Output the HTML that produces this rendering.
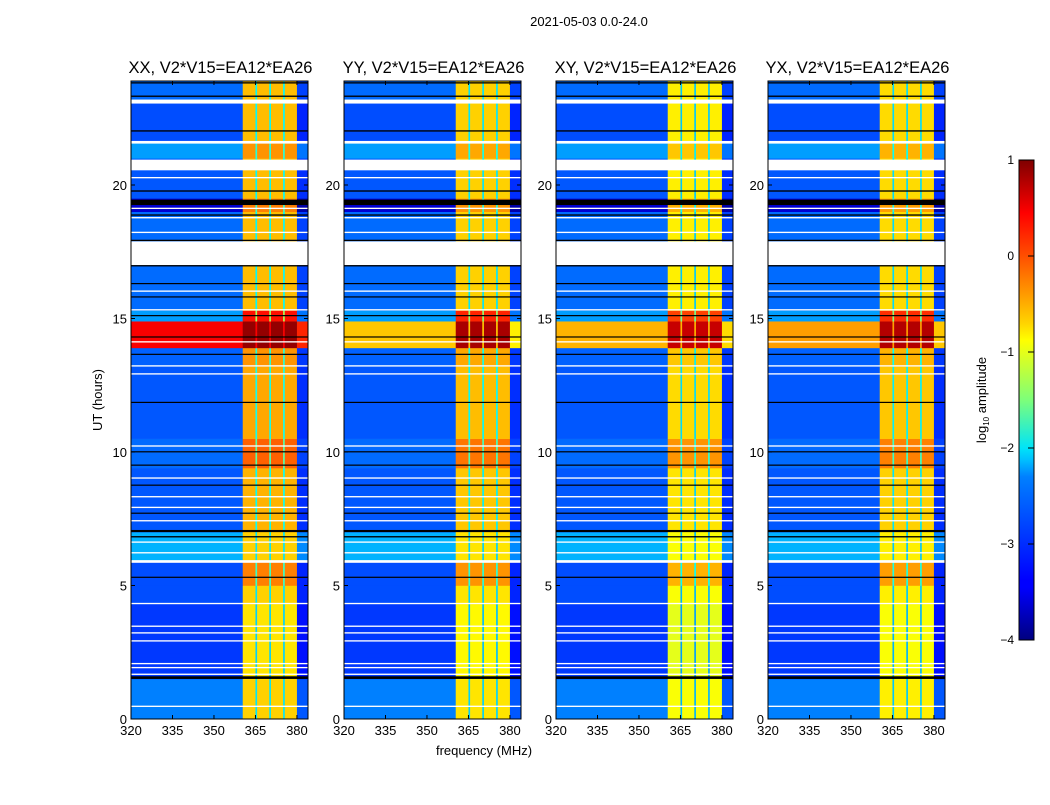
<!DOCTYPE html>
<html><head><meta charset="utf-8"><style>
body{margin:0;background:#fff;width:1050px;height:800px;overflow:hidden}
svg text{font-family:"Liberation Sans",sans-serif;fill:#000}
</style></head><body>
<svg id="fig" width="1050" height="800" xmlns="http://www.w3.org/2000/svg">
<defs><linearGradient id="jet" x1="0" y1="1" x2="0" y2="0">
<stop offset="0" stop-color="#00007f"/><stop offset="0.11" stop-color="#0000ff"/><stop offset="0.125" stop-color="#0000ff"/>
<stop offset="0.34" stop-color="#0080ff"/><stop offset="0.375" stop-color="#00bfff"/><stop offset="0.4" stop-color="#00e4f8"/>
<stop offset="0.5" stop-color="#7dff7a"/><stop offset="0.625" stop-color="#ffff00"/><stop offset="0.66" stop-color="#ffd400"/>
<stop offset="0.8" stop-color="#ff4f00"/><stop offset="0.89" stop-color="#ff0000"/><stop offset="1" stop-color="#7f0000"/>
</linearGradient></defs>
<text x="589" y="26" font-size="13" text-anchor="middle">2021-05-03 0.0-24.0</text>
<text x="484" y="755" font-size="13" text-anchor="middle">frequency (MHz)</text>
<text x="102" y="400" font-size="13" text-anchor="middle" transform="rotate(-90 102 400)">UT (hours)</text>
<g id="cbar"></g>
</svg>
<script>
const NS='http://www.w3.org/2000/svg';
const panelTitles=['XX, V2*V15=EA12*EA26','YY, V2*V15=EA12*EA26','XY, V2*V15=EA12*EA26','YX, V2*V15=EA12*EA26'];
const panelLeft=[131,344,556,768];
const xTicks=[320,335,350,365,380];
const yTicks=[0,5,10,15,20];
// frequency segments [start MHz, end MHz, kind]
const freqStart=[320,360.4,365,365.6,370,370.6,375,375.6,380];
const freqEnd=[360.4,365,365.6,370,370.6,375,375.6,380,384];
const freqKind=['bg','band','gap','band','gap','band','gap','band','bg'];
// time segments (hours) with background and band log amplitude
const tStart=[0,1.5,4.3,5.0,5.9,7.0,9.4,10.5,13.2,13.9,14.9,15.3,17.9,19.0,19.5,21.0,21.6,23.2];
const tEnd=[1.5,4.3,5.0,5.9,7.0,9.4,10.5,13.2,13.9,14.9,15.3,17.0,19.0,19.5,21.0,21.6,23.2,23.9];
const tBg=[-2.75,-3.1,-3.0,-3.0,-2.5,-2.95,-2.85,-2.95,-2.9,0.4,-2.6,-2.85,-2.85,-3.6,-2.95,-2.6,-3.0,-2.85];
const tBand=[-0.65,-0.75,-0.65,-0.25,-0.65,-0.5,-0.1,-0.45,-0.35,0.9,0.3,-0.55,-0.55,-0.25,-0.55,-0.35,-0.55,-0.55];
// per-panel offsets
const panelBandOffset=[0,-0.1,-0.25,-0.15];
const panelFlareBg=[0.4,-0.6,-0.5,-0.4];
const whiteStart=[23.05,21.55,20.55,20.25,19.1,18.75,18.2,17.0,16.0,15.3,14.1,13.2,12.9,10.2,9.0,8.3,7.9,7.4,6.6,6.2,5.85,4.3,3.45,3.2,2.9,2.05,1.9,1.65,0.45];
const whiteEnd=[23.2,21.65,20.95,20.3,19.15,18.8,18.25,17.8,16.05,15.35,14.15,13.25,12.95,10.25,9.05,8.35,7.95,7.45,6.65,6.25,5.95,4.35,3.5,3.25,2.95,2.1,1.95,1.7,0.5];
const blackStart=[23.8,23.3,22.0,19.75,19.25,18.85,17.9,16.95,16.3,15.8,15.1,14.3,13.65,11.85,10.0,9.5,8.75,7.7,7.0,6.8,5.3,1.5];
const blackEnd=[23.85,23.35,22.05,19.8,19.45,18.9,17.95,17.0,16.33,15.83,15.13,14.33,13.68,11.88,10.03,9.53,8.78,7.73,7.08,6.85,5.33,1.6];
const cbTicks=[1,0,-1,-2,-3,-4];

function jet(v){let t=(v+4)/5;t=Math.max(0,Math.min(1,t));
 const f=(x)=>Math.max(0,Math.min(1,1.5-Math.abs(4*t-x)));
 return `rgb(${Math.round(255*f(3))},${Math.round(255*f(2))},${Math.round(255*f(1))})`;}
const svg=document.getElementById('fig');
function el(tag,attrs,parent){const e=document.createElementNS(NS,tag);for(const k in attrs)e.setAttribute(k,attrs[k]);(parent||svg).appendChild(e);return e;}
const Y0=719,PXH=26.7,W=177,TOP=81;
const yS=h=>Y0-h*PXH;
panelTitles.forEach((title,p)=>{
 const L=panelLeft[p];const xS=f=>L+(f-320)*W/64;
 const g=el('g',{});
 
 
 for(let t=0;t<tStart.length;t++){
  for(let f=0;f<freqStart.length;f++){
   let bg=tBg[t];if(tStart[t]===13.9)bg=panelFlareBg[p];
   const band=tBand[t]+panelBandOffset[p];
   let v=freqKind[f]==='bg'?bg:freqKind[f]==='band'?band:Math.max(bg,band-1.6);
   if(freqKind[f]==='bg'&&f===freqStart.length-1)v=Math.min(v,bg-0.2);
   const r=el('rect',{x:xS(freqStart[f]),y:yS(tEnd[t]),width:xS(freqEnd[f])-xS(freqStart[f])+0.3,height:yS(tStart[t])-yS(tEnd[t])+0.3,fill:jet(v)},g);
   
   
  }
 }
 for(let i=0;i<whiteStart.length;i++){const r=el('rect',{x:L,y:yS(whiteEnd[i]),width:W,height:Math.max(1.2,yS(whiteStart[i])-yS(whiteEnd[i])),fill:'#fff'},g);
  }
 for(let i=0;i<blackStart.length;i++){const r=el('rect',{x:L,y:yS(blackEnd[i]),width:W,height:Math.max(1.2,yS(blackStart[i])-yS(blackEnd[i])),fill:'#000'},g);
  }
 el('rect',{x:L,y:TOP,width:W,height:Y0-TOP,fill:'none',stroke:'#000','stroke-width':1},g);
 xTicks.forEach(v=>{const x=xS(v);el('line',{x1:x,x2:x,y1:Y0,y2:Y0-4,stroke:'#000'},g);el('line',{x1:x,x2:x,y1:TOP,y2:TOP+4,stroke:'#000'},g);
  const tx=el('text',{x:x,y:735,'font-size':13,'text-anchor':'middle'},g);tx.textContent=v;
  });
 yTicks.forEach(v=>{const y=yS(v);el('line',{x1:L,x2:L+4,y1:y,y2:y,stroke:'#000'},g);el('line',{x1:L+W,x2:L+W-4,y1:y,y2:y,stroke:'#000'},g);
  const tx=el('text',{x:L-4,y:y+5,'font-size':13,'text-anchor':'end'},g);tx.textContent=v;
  });
 const tt=el('text',{x:L+W/2+1,y:73,'font-size':16.5,'text-anchor':'middle'},g);tt.textContent=title;
 
});
const cb=document.getElementById('cbar');
el('rect',{x:1019,y:160,width:15,height:480,fill:'url(#jet)',stroke:'#000','stroke-width':1},cb);
cbTicks.forEach(v=>{const y=160+(1-v)*96;el('line',{x1:1028,x2:1034,y1:y,y2:y,stroke:'#000'},cb);
 const tx=el('text',{x:1014,y:y+4,'font-size':12,'text-anchor':'end'},cb);tx.textContent=v<0?'\u2212'+(-v):v;
 });
const lbl=el('text',{x:986,y:400,'font-size':13,'text-anchor':'middle',transform:'rotate(-90 986 400)'},cb);
lbl.innerHTML='log<tspan font-size="8" dy="3">10</tspan><tspan dy="-3"> amplitude</tspan>';


</script>
</body></html>
